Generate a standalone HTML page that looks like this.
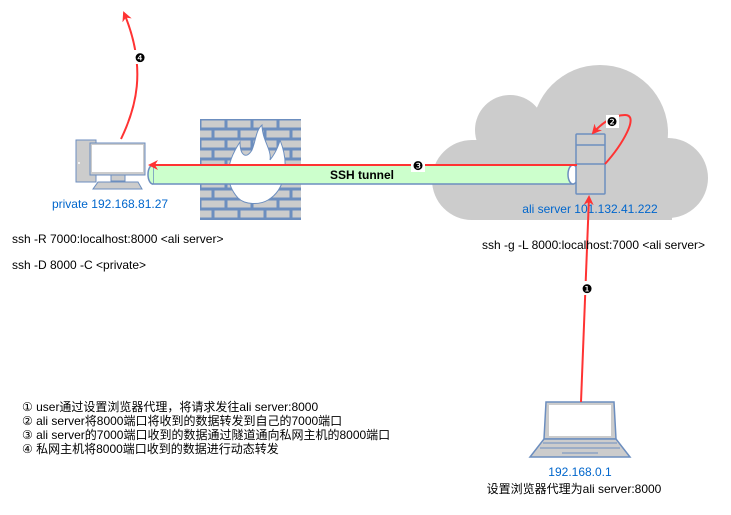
<!DOCTYPE html>
<html><head><meta charset="utf-8"><style>
body{margin:0;width:731px;height:510px;background:#fff;overflow:hidden;font-family:"Liberation Sans","Noto Sans CJK SC",sans-serif}
</style></head><body>
<svg width="731" height="510" viewBox="0 0 731 510" xmlns="http://www.w3.org/2000/svg" font-family="Liberation Sans, DejaVu Sans, Noto Sans CJK SC, sans-serif">
<defs>
<marker id="ah" markerWidth="10" markerHeight="10" refX="8" refY="5" orient="auto" markerUnits="userSpaceOnUse"><path d="M0,0 L10,5 L0,10 L3,5 z" fill="#ff3333"/></marker>
<pattern id="brick" x="200" y="119" width="52" height="20" patternUnits="userSpaceOnUse">
<rect width="52" height="20" fill="#6c8ebf"/>
<rect x="1.5" y="1.5" width="23" height="7" fill="#cccccc"/>
<rect x="27.5" y="1.5" width="23" height="7" fill="#cccccc"/>
<rect x="-11.5" y="11.5" width="23" height="7" fill="#cccccc"/>
<rect x="14.5" y="11.5" width="23" height="7" fill="#cccccc"/>
<rect x="40.5" y="11.5" width="23" height="7" fill="#cccccc"/>
</pattern>
</defs>
<g fill="#cccccc">
<circle cx="600" cy="133" r="68"/>
<circle cx="510" cy="130" r="35"/>
<circle cx="472" cy="180" r="40"/>
<circle cx="668" cy="178" r="40"/>
<rect x="472" y="140" width="200" height="80"/>
</g>
<rect x="200" y="119" width="101" height="101" fill="url(#brick)"/>
<path d="M238,198 C222,180 228,160 240,142 C240,155 246,160 252,150 C256,140 256,130 262,125 C262,140 272,150 270,160 C278,150 280,140 280,140 C290,165 285,190 268,200 C260,205 245,205 238,198z" fill="#fff" stroke="#6c8ebf" stroke-width="1"/>
<rect x="153" y="165" width="420" height="19" fill="#ccffcc" stroke="#6c8ebf" stroke-width="1.5"/>
<path d="M153,165 A5,9.5 0 0 0 153,184" fill="#ccffcc" stroke="#6c8ebf" stroke-width="1.5"/>
<ellipse cx="573" cy="174.5" rx="5" ry="9.5" fill="#fff" stroke="#6c8ebf" stroke-width="1.5"/>
<text x="362" y="179" font-size="12" font-weight="bold" text-anchor="middle">SSH tunnel</text>
<rect x="76" y="140" width="20" height="42" fill="#ccc" stroke="#6c8ebf"/>
<circle cx="79" cy="163" r="1" fill="#fff"/>
<rect x="90" y="143" width="55" height="32" fill="#ccc" stroke="#6c8ebf"/>
<rect x="92" y="145" width="51" height="27" fill="#fff"/>
<rect x="111" y="175" width="14" height="6" fill="#ccc" stroke="#6c8ebf"/>
<path d="M98,182 L138,182 L142,189 L93,189z" fill="#ccc" stroke="#6c8ebf"/>
<text x="110" y="208" font-size="12" fill="#0066cc" text-anchor="middle">private 192.168.81.27</text>
<rect x="576" y="134" width="29" height="60" fill="#ccc" stroke="#6c8ebf" stroke-width="1.5" rx="1"/>
<line x1="576" y1="145" x2="605" y2="145" stroke="#6c8ebf" stroke-width="1.5"/>
<line x1="576" y1="164" x2="605" y2="164" stroke="#6c8ebf" stroke-width="1.5"/>
<text x="590" y="213" font-size="12" fill="#0066cc" text-anchor="middle">ali server 101.132.41.222</text>
<path d="M546,402 L614,402 L616,439 L544,439z" fill="#ccc" stroke="#6c8ebf" stroke-width="1.5"/>
<rect x="549" y="405" width="62" height="31" fill="#fff"/>
<path d="M544,439 L616,439 L630,457 L530,457z" fill="#ccc" stroke="#6c8ebf" stroke-width="1.5"/>
<line x1="543" y1="443" x2="617" y2="443" stroke="#6c8ebf"/>
<line x1="540" y1="448" x2="620" y2="448" stroke="#6c8ebf"/>
<line x1="562" y1="453" x2="598" y2="453" stroke="#6c8ebf"/>
<text x="580" y="476" font-size="12" fill="#0066cc" text-anchor="middle">192.168.0.1</text>
<text x="574" y="493" font-size="12" text-anchor="middle">设置浏览器代理为ali server:8000</text>
<line x1="577" y1="165" x2="150" y2="165" stroke="#ff3333" stroke-width="2" marker-end="url(#ah)"/>
<rect x="411" y="158" width="14" height="14" fill="#fff"/>
<text x="418" y="170" font-size="12" text-anchor="middle">❸</text>
<path d="M581,402 L589,197" stroke="#ff3333" stroke-width="2" fill="none" marker-end="url(#ah)"/>
<rect x="580" y="281" width="14" height="14" fill="#fff"/>
<text x="587" y="293" font-size="12" text-anchor="middle">❶</text>
<path d="M605,164 C622,145 640,115 625,115 C612,115 600,125 593,133" stroke="#ff3333" stroke-width="2" fill="none" marker-end="url(#ah)"/>
<rect x="606" y="115" width="13" height="13" fill="#fff"/>
<text x="612" y="126" font-size="12" text-anchor="middle">❷</text>
<path d="M121,139 C135,110 148,70 124,13" stroke="#ff3333" stroke-width="2" fill="none" marker-end="url(#ah)"/>
<rect x="133" y="50" width="14" height="14" fill="#fff"/>
<text x="140" y="62" font-size="12" text-anchor="middle">❹</text>
<text x="12" y="243" font-size="12">ssh -R 7000:localhost:8000 &lt;ali server&gt;</text>
<text x="12" y="269" font-size="12">ssh -D 8000 -C &lt;private&gt;</text>
<text x="482" y="249" font-size="12">ssh -g -L 8000:localhost:7000 &lt;ali server&gt;</text>
<text font-size="12">
<tspan x="22" y="411">① user通过设置浏览器代理，将请求发往ali server:8000</tspan>
<tspan x="22" y="425">② ali server将8000端口将收到的数据转发到自己的7000端口</tspan>
<tspan x="22" y="439">③ ali server的7000端口收到的数据通过隧道通向私网主机的8000端口</tspan>
<tspan x="22" y="453">④ 私网主机将8000端口收到的数据进行动态转发</tspan>
</text>
</svg>
</body></html>
